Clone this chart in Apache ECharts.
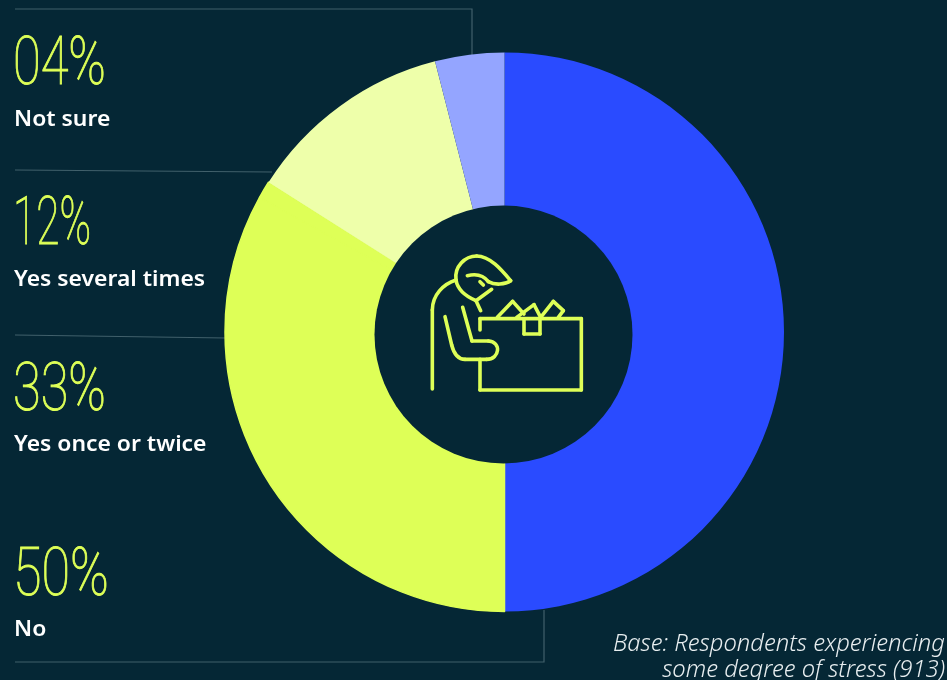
<!DOCTYPE html>
<html>
<head>
<meta charset="utf-8">
<style>html,body{margin:0;padding:0;background:#052735;overflow:hidden}#chart{width:947px;height:680px}</style>
<script src="https://cdn.jsdelivr.net/npm/echarts@6/dist/echarts.min.js"></script>
</head>
<body>
<div id="chart"></div>
<script>
// Answers, clockwise from twelve o'clock
const categories = ['No', 'Yes once or twice', 'Yes several times', 'Not sure'];
const values = [50, 33, 12, 4];
const colors = ['#2a4bff', '#deff57', '#eeffaa', '#94a5ff'];
// Published figures add up to 99; the spare point is shown in the colour of the largest "yes" share
const roundingRemainder = 1;
const baseNote = ['Base: Respondents experiencing', 'some degree of stress (913)'];

const BG = '#052735', ACCENT = '#deff57', RULE = '#41606b';
const labelTops = [547, 362, 196, 36];
const labelBaselines = [636, 451, 286, 126];
const figureWidths = [96, 93, 78, 93];

// A same-coloured outline keeps the two yellow pieces from showing a seam
const yellowStyle = { color: colors[1], borderColor: colors[1], borderWidth: 1.5 };
const pieData = [
  { name: categories[0], value: values[0], itemStyle: { color: colors[0] } },
  { name: categories[1], value: values[1], itemStyle: yellowStyle },
  { name: 'Rounding', value: roundingRemainder, itemStyle: yellowStyle },
  { name: categories[2], value: values[2], itemStyle: { color: colors[2] } },
  { name: categories[3], value: values[3], itemStyle: { color: colors[3] } }
];

// Rules that tie each block of text to its slice
const rules = [
  [[15, 9], [472, 9], [472, 55]],
  [[15, 170], [272, 172]],
  [[15, 335], [226, 338]],
  [[15, 662], [544, 662], [544, 610]]
];

// Worker bent over a box, drawn in a 3x icon space; a six-number step is a pair of
// control points plus an end point, anything else continues as straight lines
const iconStrokes = [
  [[187, 537], [187, 300], [187, 255, 220, 222, 258, 210]],
  [[258, 210], [262, 235, 285, 258, 318, 272], [365, 238]],
  [[258, 210], [252, 170, 285, 138, 320, 138], [360, 138, 395, 180, 422, 212],
   [405, 224, 375, 226, 355, 215], [340, 195, 320, 190, 292, 197]],
  [[330, 215], [340, 225]],
  [[318, 272], [332, 302]],
  [[278, 292], [306, 393], [355, 393], [395, 395, 390, 448, 350, 448], [285, 448],
   [262, 448, 250, 425, 245, 405], [225, 320]],
  [[330, 360], [330, 326], [634, 326], [634, 540], [330, 540], [330, 448]],
  [[462, 330], [462, 372], [510, 372], [510, 330]],
  [[382, 322], [428, 274], [462, 312]],
  [[440, 322], [492, 284], [512, 322]],
  [[512, 322], [550, 274], [580, 302], [565, 322]]
];

function iconElements() {
  const line = { stroke: ACCENT, lineWidth: 3.6, fill: null, lineCap: 'round', lineJoin: 'round' };
  const ix = x => 370 + x / 3, iy = y => 210 + y / 3;
  const out = [];
  iconStrokes.forEach(stroke => {
    let px = stroke[0][0], py = stroke[0][1];
    stroke.slice(1).forEach(step => {
      if (step.length === 6) {
        out.push({
          type: 'bezierCurve', silent: true, z: 11,
          shape: {
            x1: ix(px), y1: iy(py), cpx1: ix(step[0]), cpy1: iy(step[1]),
            cpx2: ix(step[2]), cpy2: iy(step[3]), x2: ix(step[4]), y2: iy(step[5])
          },
          style: line
        });
        px = step[4]; py = step[5];
      } else {
        out.push({
          type: 'line', silent: true, z: 11,
          shape: { x1: ix(px), y1: iy(py), x2: ix(step[0]), y2: iy(step[1]) },
          style: line
        });
        px = step[0]; py = step[1];
      }
    });
  });
  return out;
}

const measure = document.createElement('canvas').getContext('2d');
const figureFont = '100 67px Roboto';
measure.font = figureFont;

const graphics = [];
rules.forEach(points => graphics.push({
  type: 'polyline', silent: true,
  shape: { points },
  style: { stroke: RULE, lineWidth: 1.2, fill: null }
}));

values.forEach((v, i) => {
  const figure = String(v).padStart(2, '0') + '%';
  graphics.push({
    type: 'text', silent: true,
    x: 13, y: labelTops[i] - 2,
    scaleX: figureWidths[i] / measure.measureText(figure).width,
    style: { text: figure, font: figureFont, fill: ACCENT, stroke: ACCENT, lineWidth: 1 }
  });
  graphics.push({
    type: 'text', silent: true,
    x: 14, y: labelBaselines[i] - 16, scaleX: 1.09,
    style: { text: categories[i], font: '600 21px "Noto Sans"', fill: '#ffffff' }
  });
});

baseNote.forEach((line, i) => graphics.push({
  type: 'text', silent: true,
  x: 945, y: 632 + i * 26.5,
  style: { text: line, font: 'italic 300 23.8px "Noto Sans"', fill: '#e8eef0', textAlign: 'right' }
}));

// The centre disc sits slightly below the ring's own centre
graphics.push({
  type: 'circle', silent: true, z: 10,
  shape: { cx: 503.5, cy: 334.5, r: 129 },
  style: { fill: BG }
});
graphics.push(...iconElements());

const chart = echarts.init(document.getElementById('chart'), null, { renderer: 'canvas' });
chart.setOption({
  backgroundColor: BG,
  animation: false,
  series: [{
    type: 'pie',
    center: [504.5, 332],
    radius: [110, 279.5],
    startAngle: 90,
    clockwise: true,
    avoidLabelOverlap: false,
    silent: true,
    label: { show: false },
    labelLine: { show: false },
    data: pieData
  }],
  graphic: graphics
});
</script>
</body>
</html>
